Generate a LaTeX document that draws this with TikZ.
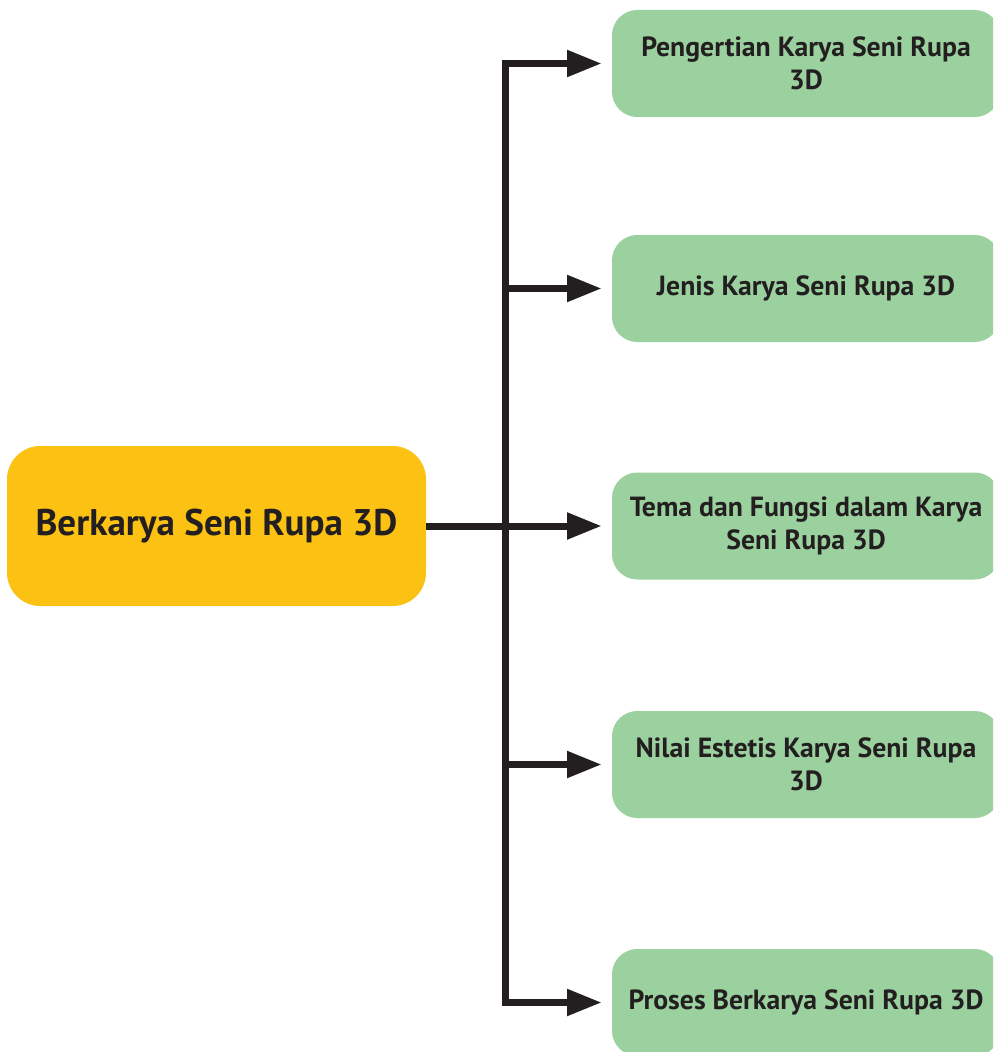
\documentclass[tikz,border=0pt]{standalone}
\usepackage{fontspec}
\setmainfont{PT Sans}
\usetikzlibrary{arrows.meta,calc}
\definecolor{mainyellow}{HTML}{FBC213}
\definecolor{boxgreen}{HTML}{9BD19F}
\definecolor{inkdark}{HTML}{231F20}
\tikzset{
  mainbox/.style={fill=mainyellow, rounded corners=25pt, minimum width=314.25pt, minimum height=120pt, inner sep=0pt, text=inkdark, font=\bfseries\fontsize{27.8}{32}\selectfont},
  topicbox/.style={fill=boxgreen, rounded corners=19pt, minimum width=291pt, minimum height=80.25pt, inner sep=0pt, text=inkdark, align=center, font=\bfseries\fontsize{20.8}{24.5}\selectfont},
  conn/.style={draw=inkdark, line width=5.25pt},
  arr/.style={conn, -{Triangle[length=26pt,width=19pt]}, shorten >=7.5pt},
}
\begin{document}
\begin{tikzpicture}[x=0.75pt,y=-0.75pt]
\useasboundingbox (0,0) rectangle (993,1052);
\clip (0,0) rectangle (993,1052);
\node[mainbox] (main) at (216.5,526) {Berkarya Seni Rupa 3D};
\node[topicbox] (b1) at (806,63.5) {Pengertian Karya Seni Rupa\\3D};
\node[topicbox] (b2) at (806,288.5) {Jenis Karya Seni Rupa 3D};
\node[topicbox] (b3) at (806,526) {Tema dan Fungsi dalam Karya\\Seni Rupa 3D};
\node[topicbox] (b4) at (806,764.5) {Nilai Estetis Karya Seni Rupa\\3D};
\node[topicbox] (b5) at (806,1002.5) {Proses Berkarya Seni Rupa 3D};
\coordinate (sp) at (505,526);
\draw[conn, line cap=rect] (sp |- b1.west) -- (sp |- b5.west);
\draw[arr] (main.east) -- (b3.west);
\foreach \b in {b1,b2,b4,b5}{
  \draw[arr] (sp |- \b.west) -- (\b.west);
}
\end{tikzpicture}
\end{document}
